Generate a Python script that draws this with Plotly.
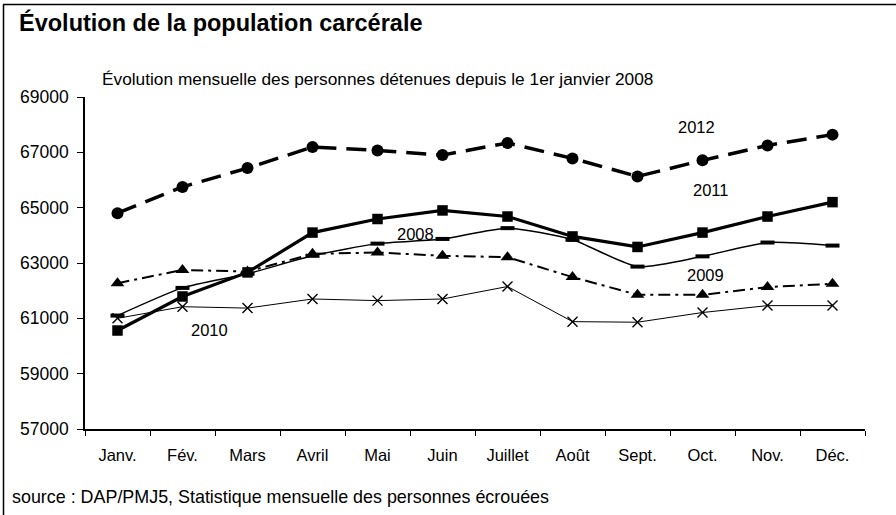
import plotly.graph_objects as go

months = ["Janv.", "Fév.", "Mars", "Avril", "Mai", "Juin", "Juillet", "Août", "Sept.", "Oct.", "Nov.", "Déc."]
y2008 = [61100, 62100, 62610, 63260, 63700, 63870, 64260, 63840, 62870, 63240, 63740, 63630]
y2009 = [62270, 62750, 62690, 63330, 63380, 63260, 63210, 62490, 61850, 61850, 62130, 62250]
y2010 = [61000, 61420, 61370, 61700, 61640, 61700, 62150, 60880, 60860, 61210, 61460, 61460]
y2011 = [60560, 61790, 62660, 64100, 64590, 64900, 64680, 63960, 63580, 64100, 64680, 65200]
y2012 = [64800, 65750, 66430, 67190, 67070, 66900, 67340, 66780, 66130, 66710, 67250, 67640]
yticks = [57000, 59000, 61000, 63000, 65000, 67000, 69000]

FONT = "Liberation Sans, Arial, sans-serif"
fig = go.Figure()

fig.add_trace(go.Scatter(x=months, y=y2010, mode="lines+markers", name="2010",
                         line=dict(color="black", width=1),
                         marker=dict(symbol="x-thin", size=10, color="black",
                                     line=dict(color="black", width=1.4))))
fig.add_trace(go.Scatter(x=months, y=y2009, mode="lines+markers", name="2009",
                         line=dict(color="black", width=2, dash="12px,5px,3px,5px"),
                         marker=dict(symbol="triangle-up", size=12, color="black")))
fig.add_trace(go.Scatter(x=months, y=y2008, mode="lines+markers", name="2008",
                         line=dict(color="black", width=1.5, shape="spline", smoothing=0.6),
                         marker=dict(symbol="line-ew", size=10, color="black",
                                     line=dict(color="black", width=4))))
fig.add_trace(go.Scatter(x=months, y=y2011, mode="lines+markers", name="2011",
                         line=dict(color="black", width=3.2),
                         marker=dict(symbol="square", size=10.5, color="black")))
fig.add_trace(go.Scatter(x=months, y=y2012, mode="lines+markers", name="2012",
                         line=dict(color="black", width=3.5, dash="20px,10px"),
                         marker=dict(symbol="circle", size=12, color="black")))

labels = [("2012", 8.9, 67930), ("2011", 9.12, 65650), ("2008", 4.58, 64060),
          ("2009", 9.05, 62570), ("2010", 1.41, 60580)]
annotations = [dict(x=lx, y=ly, xref="x", yref="y", text=t, showarrow=False,
                    font=dict(family=FONT, size=16.5, color="black"))
               for t, lx, ly in labels]

L, T, PW, PH = 85, 97, 780, 332
def px(x):
    return (x - L) / PW
def py(y):
    return (T + PH - y) / PH

annotations += [
    dict(x=px(17), y=py(23), xref="paper", yref="paper", xanchor="left", yanchor="middle",
         text="<b>Évolution de la population carcérale</b>", showarrow=False,
         font=dict(family=FONT, size=23.5, color="black")),
    dict(x=px(100), y=py(79), xref="paper", yref="paper",
         xanchor="left", yanchor="middle",
         text="Évolution mensuelle des personnes détenues depuis le 1er janvier 2008",
         showarrow=False, font=dict(family=FONT, size=17.3, color="black")),
    dict(x=px(10), y=py(497), xref="paper", yref="paper",
         xanchor="left", yanchor="middle",
         text="source : DAP/PMJ5, Statistique mensuelle des personnes écrouées",
         showarrow=False, font=dict(family=FONT, size=17.9, color="black")),
]

shapes = [
    dict(type="line", xref="paper", yref="paper", x0=px(3), x1=px(897),
         y0=py(4.5), y1=py(4.5), line=dict(color="black", width=1.5)),
    dict(type="line", xref="paper", yref="paper", x0=px(3.5), x1=px(3.5),
         y0=py(4.5), y1=py(520), line=dict(color="black", width=1.5)),
]

fig.update_layout(
    width=896, height=515,
    margin=dict(l=L, r=896 - L - PW, t=T, b=515 - T - PH, autoexpand=False),
    paper_bgcolor="white", plot_bgcolor="white",
    showlegend=False,
    annotations=annotations, shapes=shapes,
    font=dict(family=FONT, size=16, color="black"),
)
fig.update_xaxes(type="category", range=[-0.5, len(months) - 0.5],
                 showline=True, linecolor="black", linewidth=1.5,
                 ticks="outside", ticklen=5, tickcolor="black", tickson="boundaries",
                 showgrid=False, zeroline=False, ticklabelstandoff=10, automargin=False,
                 tickfont=dict(family=FONT, size=16.5, color="black"))
fig.update_yaxes(range=[57000, 69000], tickvals=yticks, ticktext=[str(v) for v in yticks],
                 showline=True, linecolor="black", linewidth=1.5,
                 ticks="outside", ticklen=6, tickcolor="black", automargin=False,
                 showgrid=False, zeroline=False, ticklabelstandoff=5,
                 tickfont=dict(family=FONT, size=17.5, color="black"))

fig.write_html("out.html", config={"displayModeBar": False},
               post_script="document.body.style.margin='0';document.body.style.overflow='hidden';")
